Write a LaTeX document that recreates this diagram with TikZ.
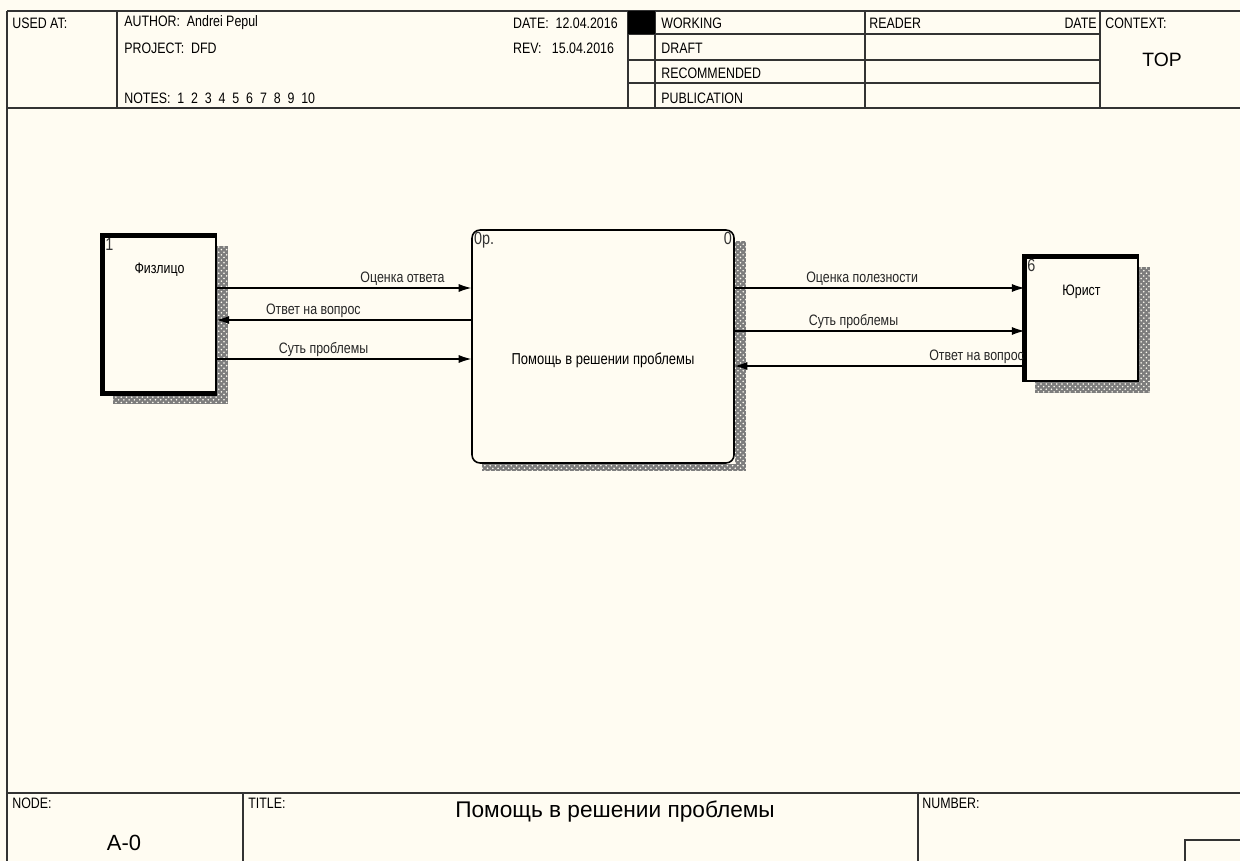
\documentclass[tikz,border=0pt]{standalone}
\usepackage{fontspec}
\setmainfont{Liberation Sans}
\newfontfamily\narrowsf[FakeStretch=0.82]{Liberation Sans}
\usetikzlibrary{arrows.meta, positioning, calc, backgrounds, patterns}
\definecolor{paper}{RGB}{255,252,242}
\definecolor{hatchgray}{RGB}{125,125,125}

\begin{document}
\begin{tikzpicture}[x=0.02cm, y=-0.02cm,
    font=\narrowsf\fontsize{8.6}{10}\selectfont,
    frameline/.style={line width=0.8pt, draw=black!80},
    hdr/.style     ={anchor=west, inner sep=0pt},
    extent/.style  ={draw=black, line width=0.7pt, fill=paper, inner sep=0pt},
    proc/.style    ={draw=black, line width=0.9pt, fill=paper, inner sep=0pt,
                     rounded corners=4.5pt},
    hatch/.style   ={fill=hatchgray, postaction={pattern=crosshatch dots, pattern color=paper}},
    idlbl/.style   ={anchor=north west, inner sep=1.5pt, text=black!80,
                     font=\narrowsf\fontsize{10}{11}\selectfont},
    flow/.style    ={-{Latex[length=2.5mm, width=1.6mm]}, line width=0.6pt},
    flowlbl/.style ={above, inner sep=1.2pt, text=black!85},
  ]

  % ---- paper ----
  \begin{scope}[on background layer]
    \fill[paper] (0,0) rectangle (1240,861);
  \end{scope}
  \useasboundingbox (0,0) rectangle (1240,861);

  % ---- frame and header grid ----
  \draw[frameline] (7,11) -- (7,861);
  \draw[frameline] (7,11) -- (1240,11);
  \draw[frameline] (7,108) -- (1240,108);
  \foreach \xx in {117,628,655,865,1100}
    \draw[frameline] (\xx,11) -- (\xx,108);
  \foreach \yy in {34,60,83}
    \draw[frameline] (628,\yy) -- (1100,\yy);
  \fill[black] (628,11) rectangle (655,34);

  % ---- header texts ----
  \node[hdr] (usedat)  at (12,23)   {USED AT:};
  \node[hdr] (author)  at (124,23)  {AUTHOR:\ \ Andrei Pepul};
  \node[hdr] (project) at (124,48)  {PROJECT:\ \ DFD};
  \node[hdr] (notes)   at (124,98)  {NOTES:\ \ 1\ \ 2\ \ 3\ \ 4\ \ 5\ \ 6\ \ 7\ \ 8\ \ 9\ \ 10};
  \node[hdr, anchor=east] (date) at (618,23) {DATE:\ \ 12.04.2016};
  \node[hdr] (rev)     at (date.west |- 0,48) {REV:\ \ \ 15.04.2016};
  \node[hdr] (working) at (661,23)  {WORKING};
  \node[hdr] (draft)   at (661,48)  {DRAFT};
  \node[hdr] (recomm)  at (661,73)  {RECOMMENDED};
  \node[hdr] (public)  at (661,98)  {PUBLICATION};
  \node[hdr] (reader)  at (869,23)  {READER};
  \node[hdr, anchor=east] (rdate) at (1097,23) {DATE};
  \node[hdr] (context) at (1105,23) {CONTEXT:};
  \node[font=\fontsize{11}{12}\selectfont] (top) at (1162,60) {TOP};

  % ---- footer ----
  \draw[frameline] (7,793) -- (1240,793);
  \draw[frameline] (243,793) -- (243,861);
  \draw[frameline] (918,793) -- (918,861);
  \draw[frameline] (1185,861) -- (1185,840) -- (1240,840);
  \node[hdr] (nodelbl)  at (12,803)  {NODE:};
  \node[hdr] (titlelbl) at (248,803) {TITLE:};
  \node[hdr] (numlbl)   at (922,803) {NUMBER:};
  \node[font=\fontsize{12.5}{14}\selectfont] (nodeno) at (124,843) {A-0};
  \node[font=\fontsize{12.9}{14}\selectfont] (title)  at (615,812) {Помощь в решении проблемы};

  % ---- external entities and process ----
  \node[extent, minimum width=2.26cm, minimum height=3.14cm] (fiz)  at (159.5,314.5) {};
  \node[proc,   minimum width=5.24cm, minimum height=4.66cm] (help) at (603,346.5) {};
  \node[extent, minimum width=2.26cm, minimum height=2.48cm] (jur)  at (1081.5,319) {};

  % shadows
  \begin{scope}[on background layer]
    \fill[hatch] ($(fiz.north east)+(0,11)$) rectangle ($(fiz.south east)+(11,10)$);
    \fill[hatch] ($(fiz.south west)+(11,0)$) rectangle ($(fiz.south east)+(11,10)$);
    \fill[hatch] ($(help.north east)+(0,12)$) rectangle ($(help.south east)+(11,7)$);
    \fill[hatch] ($(help.south west)+(11,0)$) rectangle ($(help.south east)+(11,7)$);
    \fill[hatch] ($(jur.north east)+(0,11)$) rectangle ($(jur.south east)+(11,11)$);
    \fill[hatch] ($(jur.south west)+(11,0)$) rectangle ($(jur.south east)+(11,11)$);
  \end{scope}

  % heavy edges of the entities
  \draw[line width=3pt] (fiz.south east) -- (fiz.south west) -- (fiz.north west) -- (fiz.north east);
  \draw[line width=3pt] (jur.south west) -- (jur.north west) -- (jur.north east);

  \node[idlbl] (fizid)  at (fiz.north west)  {1};
  \node[idlbl] (helpid) at (help.north west) {0р.};
  \node[idlbl, anchor=north east] (helpno) at (help.north east) {0};
  \node[idlbl] (jurid)  at (jur.north west)  {6};
  \node (fizname) at ($(fiz.north)+(0,34)$) {Физлицо};
  \node (jurname) at ($(jur.north)+(0,35)$) {Юрист};
  \node[font=\narrowsf\fontsize{9}{10}\selectfont] (helpname) at ($(help.center)+(0,14)$) {Помощь в решении проблемы};

  % ---- data flows, left ----
  \draw[flow] (fiz.east |- 0,288) -- node[flowlbl, pos=0.73] {Оценка ответа} (help.west |- 0,288);
  \draw[flow] (help.west |- 0,320) -- node[flowlbl, pos=0.62] {Ответ на вопрос} (fiz.east |- 0,320);
  \draw[flow] (fiz.east |- 0,359) -- node[flowlbl, pos=0.42] {Суть проблемы} (help.west |- 0,359);

  % ---- data flows, right ----
  \draw[flow] (help.east |- 0,288) -- node[flowlbl, pos=0.44] {Оценка полезности} (jur.west |- 0,288);
  \draw[flow] (help.east |- 0,331) -- node[flowlbl, pos=0.41] {Суть проблемы} (jur.west |- 0,331);
  \draw[flow] (jur.west |- 0,366) -- node[flowlbl, pos=0.165] {Ответ на вопрос} (help.east |- 0,366);

\end{tikzpicture}
\end{document}
